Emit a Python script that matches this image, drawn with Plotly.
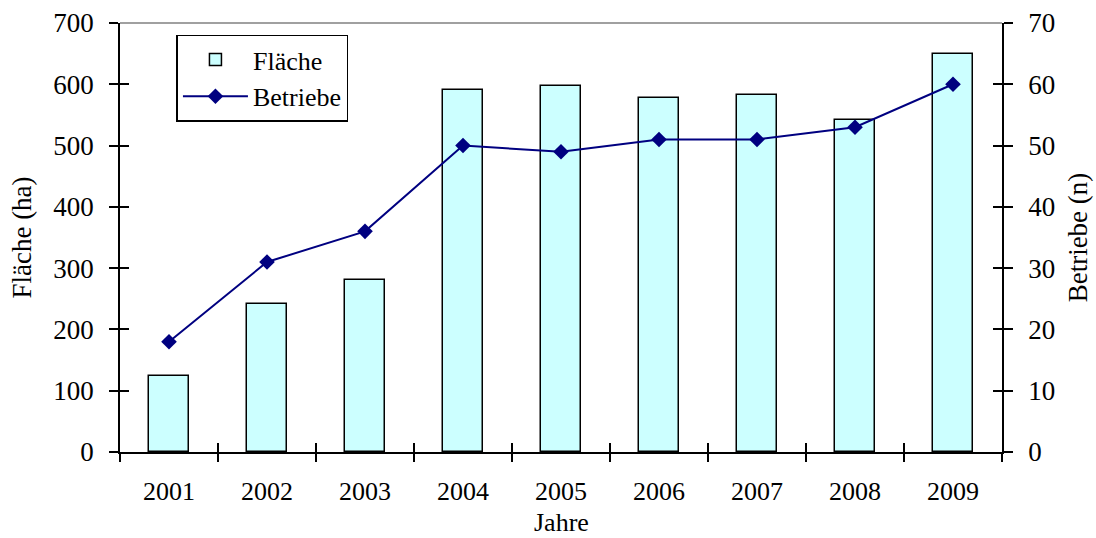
import plotly.graph_objects as go

# Jahreswerte
jahre = [2001, 2002, 2003, 2004, 2005, 2006, 2007, 2008, 2009]
jahr_labels = [str(j) for j in jahre]
flaeche_ha = [124, 242, 280, 591, 597, 577, 582, 541, 650]
betriebe_n = [18, 31, 36, 50, 49, 51, 51, 53, 60]

# Grenzen zwischen den Kategorien (für Teilstriche)
grenzen = [j - 0.5 for j in jahre] + [jahre[-1] + 0.5]

FONT = "Liberation Serif, Times New Roman, serif"
FS = 27
FSX = 26
xr = [jahre[0] - 0.5, jahre[-1] + 0.5]

fig = go.Figure()

fig.add_trace(go.Bar(
    x=jahre, y=flaeche_ha, name="Fläche", width=0.41,
    marker=dict(color="#CCFFFF", line=dict(color="black", width=1.5)),
    xaxis="x", yaxis="y",
))
fig.add_trace(go.Scatter(
    x=jahre, y=betriebe_n, name="Betriebe", mode="lines+markers",
    line=dict(color="#000080", width=2),
    marker=dict(symbol="diamond", size=12, color="#000080"),
    xaxis="x", yaxis="y2",
))

# leere Spuren für die zusätzlichen Achsen (Kreuz-Teilstriche)
for xa, ya in [("x2", "y"), ("x3", "y"), ("x", "y3"), ("x", "y4")]:
    fig.add_trace(go.Scatter(x=[], y=[], xaxis=xa, yaxis=ya,
                             showlegend=False, hoverinfo="skip"))

tick_common = dict(tickfont=dict(family=FONT, size=FS, color="black"))
cross = dict(showticklabels=False, showgrid=False, zeroline=False,
             showline=False, tickcolor="black", tickwidth=1.5, ticklen=9,
             automargin=False)

fig.update_layout(
    width=1096, height=538,
    margin=dict(l=120, r=94, t=23, b=86),
    paper_bgcolor="white", plot_bgcolor="white",
    font=dict(family=FONT, size=FS, color="black"),
    bargap=0,
    xaxis=dict(
        range=xr, tickvals=jahre, ticktext=jahr_labels,
        ticks="outside", ticklen=15, tickcolor="rgba(0,0,0,0)",
        showline=True, linecolor="black", linewidth=1.5,
        showgrid=False, zeroline=False, automargin=False,
        tickfont=dict(family=FONT, size=FSX, color="black"),
    ),
    xaxis2=dict(overlaying="x", anchor="y", range=xr, tickvals=grenzen,
                ticks="outside", **cross),
    xaxis3=dict(overlaying="x", anchor="y", range=xr, tickvals=grenzen,
                ticks="inside", **cross),
    yaxis=dict(
        range=[0, 700], dtick=100, tickmode="linear", tick0=0,
        ticks="outside", ticklen=9, tickcolor="black", tickwidth=1.5,
        ticklabelstandoff=10,
        showline=True, linecolor="black", linewidth=1.5,
        showgrid=False, zeroline=False, automargin=False,
        title=dict(text="Fläche (ha)", font=dict(family=FONT, size=FS), standoff=14),
        **tick_common,
    ),
    yaxis2=dict(
        range=[0, 70], dtick=10, tickmode="linear", tick0=0,
        overlaying="y", side="right", anchor="x",
        ticks="outside", ticklen=9, tickcolor="black", tickwidth=1.5,
        ticklabelstandoff=10,
        showline=True, linecolor="black", linewidth=1.5,
        showgrid=False, zeroline=False, automargin=False,
        title=dict(text="Betriebe (n)", font=dict(family=FONT, size=FS), standoff=14),
        **tick_common,
    ),
    yaxis3=dict(range=[0, 700], dtick=100, tickmode="linear", tick0=0,
                overlaying="y", side="left", anchor="x", ticks="inside", **cross),
    yaxis4=dict(range=[0, 70], dtick=10, tickmode="linear", tick0=0,
                overlaying="y", side="right", anchor="x", ticks="inside", **cross),
    legend=dict(
        x=0.064, y=0.973, xanchor="left", yanchor="top",
        bgcolor="white", bordercolor="black", borderwidth=1.5,
        font=dict(family=FONT, size=26),
        tracegroupgap=0, itemwidth=65,
    ),
    showlegend=True,
)

# Titel der x-Achse
fig.add_annotation(text="Jahre", xref="paper", yref="paper", x=0.5, y=-0.2,
                   xanchor="center", yanchor="bottom", showarrow=False,
                   borderpad=0,
                   font=dict(family=FONT, size=FSX, color="black"))

# obere Begrenzung der Zeichenfläche
fig.add_shape(type="line", xref="paper", yref="paper", x0=0, x1=1, y0=1, y1=1,
              line=dict(color="#808080", width=1.5))

fig.write_html("out.html")
